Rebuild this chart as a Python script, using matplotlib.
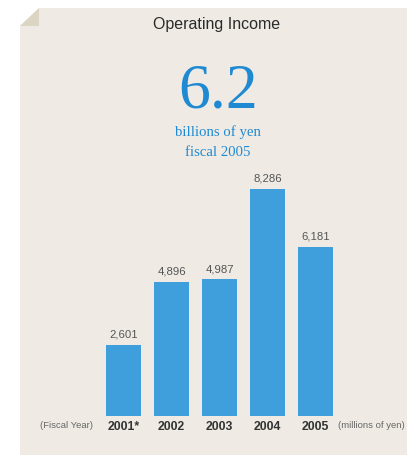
import matplotlib
matplotlib.use("Agg")
import matplotlib.pyplot as plt
from matplotlib.patches import Polygon

# Operating income by fiscal year (millions of yen)
years = ["2001*", "2002", "2003", "2004", "2005"]
income = [2601, 4896, 4987, 8286, 6181]
value_labels = ["2,601", "4,896", "4,987", "8,286", "6,181"]

headline_value = "6.2"
headline_unit = "billions of yen"
headline_period = "fiscal 2005"

W, H = 407, 456
DPI = 100
PANEL = "#efebe4"
FOLD = "#ddd5c3"
BLUE = "#3f9fdc"
HEAD_BLUE = "#1f8ad2"
SANS = ["Liberation Sans", "DejaVu Sans"]
SERIF = ["Liberation Serif", "DejaVu Serif"]

fig = plt.figure(figsize=(W / DPI, H / DPI), dpi=DPI)
fig.patch.set_facecolor("white")

# Background page with a folded top-left corner (figure pixel coords, y down)
def px(x, y):
    return (x / W, 1 - y / H)

page = Polygon([px(20, 27), px(39, 9), px(W, 9), px(W, H), px(20, H)],
               closed=True, transform=fig.transFigure, facecolor=PANEL,
               edgecolor="none", zorder=-2)
fold = Polygon([px(20, 27), px(39, 9), px(39, 27)], closed=True,
               transform=fig.transFigure, facecolor=FOLD, edgecolor="none",
               zorder=-1)
fig.patches.extend([page, fold])

# Headings
fig.text(217 / W, 1 - 29.5 / H, "Operating Income", ha="center", va="baseline",
         fontsize=11.5, color="#2a2a2a", family=SANS)
fig.text(218 / W, 1 - 108 / H, headline_value, ha="center", va="baseline",
         fontsize=46, color=HEAD_BLUE, family=SERIF)
fig.text(218 / W, 1 - 136 / H, headline_unit, ha="center", va="baseline",
         fontsize=10.6, color=HEAD_BLUE, family=SERIF)
fig.text(218 / W, 1 - 156 / H, headline_period, ha="center", va="baseline",
         fontsize=10.6, color=HEAD_BLUE, family=SERIF)

# Bar chart area
ax_left, ax_right = 99.5, 339.5
ax_bottom, ax_top = 416.7, 170.4
ax = fig.add_axes([ax_left / W, 1 - ax_bottom / H,
                   (ax_right - ax_left) / W, (ax_bottom - ax_top) / H])
ax.set_facecolor("none")
x = list(range(len(years)))
bars = ax.bar(x, income, width=0.73, color=BLUE, zorder=2)
ax.set_xlim(-0.5, len(years) - 0.5)
ax.set_ylim(0, 9000)
ax.bar_label(bars, labels=value_labels, padding=4.3, fontsize=8.2,
             color="#555555", family=SANS)

ax.set_xticks(x)
ax.set_xticklabels(years, fontsize=8.8, fontweight="bold", color="#333333",
                   family=SANS)
ax.tick_params(axis="x", length=0, pad=3)
ax.set_yticks([])
for s in ax.spines.values():
    s.set_visible(False)

fig.text(67 / W, 1 - 426 / H, "(Fiscal Year)", ha="center", va="center",
         fontsize=6.8, color="#666666", family=SANS)
fig.text(371 / W, 1 - 426 / H, "(millions of yen)", ha="center", va="center",
         fontsize=6.8, color="#666666", family=SANS)

fig.savefig("out.png", dpi=DPI, facecolor=fig.get_facecolor())
